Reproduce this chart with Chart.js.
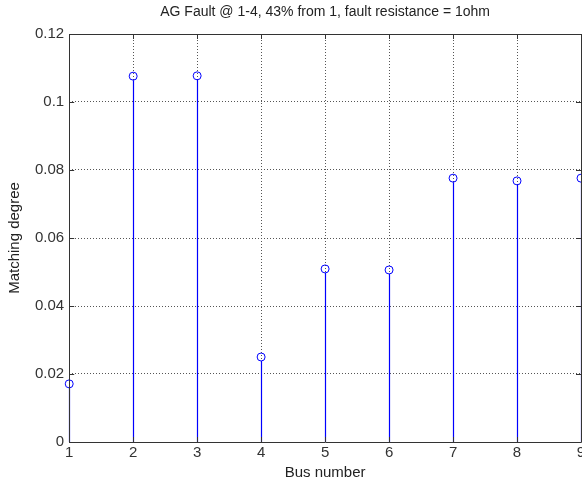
<!DOCTYPE html>
<html>
<head>
<meta charset="utf-8">
<script src="https://cdn.jsdelivr.net/npm/chart.js@4.4.0/dist/chart.umd.min.js"></script>
<style>
  html, body { margin: 0; padding: 0; background: #ffffff; overflow: hidden; }
  #wrap { width: 582px; height: 483px; overflow: hidden; }
</style>
</head>
<body>
<div id="wrap"><canvas id="stemChart" width="594" height="483"></canvas></div>
<script>
// data
const busNumbers = ['1', '2', '3', '4', '5', '6', '7', '8', '9'];
const matchingDegree = [0.0171, 0.1076, 0.1077, 0.0250, 0.0509, 0.0506, 0.0776, 0.0768, 0.0776];
const yTicks = [0, 0.02, 0.04, 0.06, 0.08, 0.1, 0.12];

const titleText = 'AG Fault @ 1-4, 43% from 1, fault resistance = 1ohm';
const stemBlue = '#0000ff';
const axisGray = '#333333';
const fontFamily = '"Liberation Sans", Arial, sans-serif';

// stems, box outline, inner tick marks and the title (MATLAB look)
const matlabAxes = {
    id: 'matlabAxes',
    afterDraw(chart) {
        const { ctx, chartArea: a, scales } = chart;
        ctx.save();

        // stems, on top of the dotted grid
        const y0 = scales.y.getPixelForValue(0);
        ctx.strokeStyle = stemBlue;
        ctx.lineWidth = 1.2;
        ctx.setLineDash([]);
        ctx.beginPath();
        matchingDegree.forEach((v, i) => {
            const x = Math.round(scales.x.getPixelForValue(i)) + 0.5;
            ctx.moveTo(x, y0);
            ctx.lineTo(x, scales.y.getPixelForValue(v) + 4);
        });
        ctx.stroke();

        // box
        ctx.strokeStyle = axisGray;
        ctx.lineWidth = 1;
        ctx.beginPath();
        ctx.rect(Math.round(a.left) + 0.5, Math.round(a.top) + 0.5,
                 Math.round(a.right - a.left), Math.round(a.bottom - a.top));
        ctx.stroke();

        // inner ticks
        ctx.beginPath();
        yTicks.forEach(v => {
            const y = Math.round(scales.y.getPixelForValue(v)) + 0.5;
            ctx.moveTo(a.left, y); ctx.lineTo(a.left + 5, y);
            ctx.moveTo(a.right, y); ctx.lineTo(a.right - 5, y);
        });
        busNumbers.forEach((b, i) => {
            const x = Math.round(scales.x.getPixelForValue(i)) + 0.5;
            ctx.moveTo(x, a.bottom); ctx.lineTo(x, a.bottom - 5);
            ctx.moveTo(x, a.top); ctx.lineTo(x, a.top + 5);
        });
        ctx.stroke();

        // title, centred over the plot box
        ctx.fillStyle = '#222222';
        ctx.font = '14px ' + fontFamily;
        ctx.textAlign = 'center';
        ctx.textBaseline = 'middle';
        ctx.fillText(titleText, (a.left + a.right) / 2, 12);
        ctx.restore();
    }
};

const ctx = document.getElementById('stemChart').getContext('2d');

const stemChart = new Chart(ctx, {
    type: 'line',
    data: {
        labels: busNumbers,
        datasets: [
            {
                // circle heads (stems drawn by the plugin above)
                data: matchingDegree,
                showLine: false,
                pointStyle: 'circle',
                pointRadius: 4,
                pointBorderWidth: 1,
                pointBorderColor: stemBlue,
                pointBackgroundColor: 'rgba(0,0,0,0)'
            }
        ]
    },
    options: {
        responsive: false,
        animation: false,
        layout: { padding: { top: 34, right: 13, left: 0, bottom: 0 } },
        plugins: {
            legend: { display: false },
            tooltip: { enabled: false }
        },
        scales: {
            x: {
                type: 'category',
                offset: false,
                // in v4 border.dash also sets the grid line dash
                border: { display: false, dash: [1, 2] },
                grid: {
                    offset: false,
                    color: '#555555',
                    lineWidth: 1,
                    drawTicks: false
                },
                ticks: {
                    color: axisGray,
                    font: { family: fontFamily, size: 15 },
                    padding: 2,
                    maxRotation: 0
                },
                title: {
                    display: true,
                    text: 'Bus number',
                    color: '#222222',
                    font: { family: fontFamily, size: 15 },
                    padding: { top: 0, bottom: 1 }
                }
            },
            y: {
                min: 0,
                max: 0.12,
                border: { display: false, dash: [1, 2] },
                grid: {
                    color: '#555555',
                    lineWidth: 1,
                    drawTicks: false
                },
                ticks: {
                    stepSize: 0.02,
                    color: axisGray,
                    font: { family: fontFamily, size: 15 },
                    padding: 5,
                    callback: v => String(+v.toFixed(4))
                },
                title: {
                    display: true,
                    text: 'Matching degree',
                    color: '#222222',
                    font: { family: fontFamily, size: 15 },
                    padding: { top: 6, bottom: 6 }
                }
            }
        }
    },
    plugins: [matlabAxes]
});
</script>
</body>
</html>
